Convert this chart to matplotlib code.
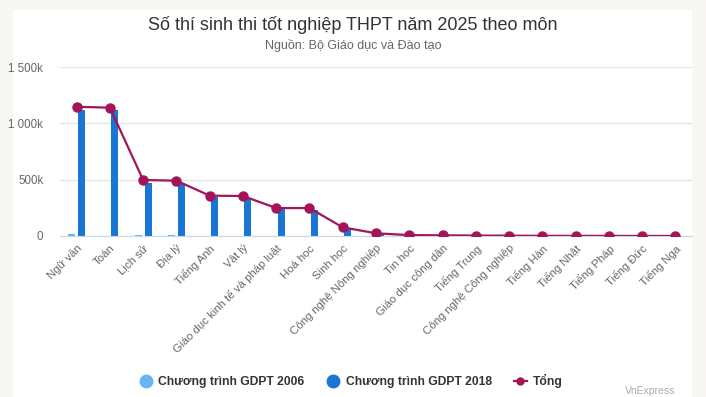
#!/usr/bin/env python3

import numpy as np
from matplotlib import pyplot as plt
from matplotlib.lines import Line2D
from matplotlib.patches import Rectangle

plt.rcParams['font.family'] = ['Liberation Sans', 'DejaVu Sans']

# Subjects and candidate counts
subjects = ["Ngữ văn", "Toán", "Lịch sử", "Địa lý", "Tiếng Anh", "Vật lý",
            "Giáo dục kinh tế và pháp luật", "Hoá học", "Sinh học",
            "Công nghệ Nông nghiệp", "Tin học", "Giáo dục công dân",
            "Tiếng Trung", "Công nghệ Công nghiệp", "Tiếng Hàn", "Tiếng Nhật",
            "Tiếng Pháp", "Tiếng Đức", "Tiếng Nga"]
gdpt_2006 = [14000, 0, 11000, 11000, 0, 0, 0, 0, 0, 0, 0, 5000,
             0, 0, 0, 0, 0, 0, 0]
gdpt_2018 = [1118000, 1118000, 473000, 468000, 349000, 334000, 237000,
             228000, 62000, 15000, 5000, 0, 2000, 1000, 500, 500, 300, 200, 100]
total = [1147000, 1139000, 497000, 491000, 358000, 355000, 248000, 248000,
         77000, 24000, 8000, 6000, 4000, 3000, 1500, 1200, 1000, 500, 300]
y_ticks = [0, 500000, 1000000, 1500000]
y_labels = ["0", "500k", "1 000k", "1 500k"]

light_blue = '#64b5f6'
dark_blue = '#1976d2'
crimson = '#a3145a'

fig = plt.figure(figsize=(7.06, 3.97), dpi=100)
fig.patch.set_facecolor('#f8f7f3')
# white card behind the chart
fig.patches.append(Rectangle((13 / 706, 0), 679 / 706, 387 / 397,
                             transform=fig.transFigure, facecolor='white',
                             edgecolor='none', zorder=-10))

ax = fig.add_axes([60 / 706, 161 / 397, 632 / 706, 169 / 397])
ax.set_facecolor('none')

x = np.arange(len(subjects))
ax.bar(x - 0.15, gdpt_2006, width=0.21, color=light_blue, zorder=2)
ax.bar(x + 0.15, gdpt_2018, width=0.21, color=dark_blue, zorder=2)
ax.plot(x, total, color=crimson, linewidth=1.6, marker='o', markersize=6.5,
        zorder=3)

ax.set_xlim(-0.5, len(subjects) - 0.5)
ax.set_ylim(0, 1500000)
ax.set_yticks(y_ticks)
ax.set_yticklabels(y_labels, fontsize=8.3, color='#666666')
ax.set_xticks(x)
ax.set_xticklabels(subjects, rotation=45, ha='right', rotation_mode='anchor',
                   fontsize=8.2, color='#666666')
ax.tick_params(axis='both', length=0)
ax.tick_params(axis='y', pad=12)
ax.tick_params(axis='x', pad=5)
ax.grid(axis='y', color='#e6e6e6', linewidth=1, zorder=0)
for side in ['top', 'right', 'left']:
    ax.spines[side].set_visible(False)
ax.spines['bottom'].set_color('#ccd6eb')

fig.text(0.5, 1 - 25 / 397, "Số thí sinh thi tốt nghiệp THPT năm 2025 theo môn",
         ha='center', va='center', fontsize=13, color='#333333')
fig.text(0.5, 1 - 46 / 397, "Nguồn: Bộ Giáo dục và Đào tạo",
         ha='center', va='center', fontsize=9, color='#666666')

handles = [
    Line2D([], [], linestyle='none', marker='o', markersize=9,
           color=light_blue, label='Chương trình GDPT 2006'),
    Line2D([], [], linestyle='none', marker='o', markersize=9,
           color=dark_blue, label='Chương trình GDPT 2018'),
    Line2D([], [], color=crimson, linewidth=1.6, marker='o', markersize=5,
           label='Tổng'),
]
leg = fig.legend(handles=handles, loc='center', ncol=3,
                 bbox_to_anchor=(0.497, 1 - 381 / 397), frameon=False,
                 prop={'size': 8.7, 'weight': 'bold'}, handlelength=1.1,
                 handletextpad=0.5, columnspacing=1.8)
for t in leg.get_texts():
    t.set_color('#333333')

fig.text(0.885, 1 - 391 / 397, "VnExpress", ha='left', va='center',
         fontsize=7.5, color='#aaaaaa')

plt.savefig('out.png', dpi=100, facecolor=fig.get_facecolor())
